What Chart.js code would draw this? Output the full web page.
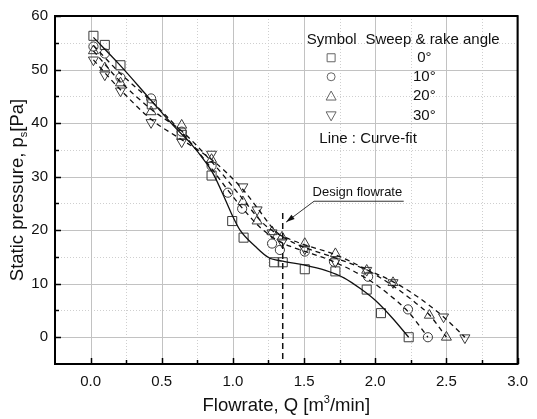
<!DOCTYPE html>
<html>
<head>
<meta charset="utf-8">
<script src="https://cdn.jsdelivr.net/npm/chart.js"></script>
<style>
  body { margin: 0; background: #fff; }
  #wrap { width: 537px; height: 419px; }
</style>
</head>
<body>
<div id="wrap"><canvas id="pChart"></canvas></div>
<script>
const q0  = [0.02, 0.10, 0.21, 0.43, 0.64, 0.85, 0.995, 1.075, 1.29, 1.35, 1.505, 1.72, 1.94, 2.04, 2.235];
const p0  = [56.3, 54.6, 50.8, 43.5, 37.8, 30.2, 21.7, 18.6, 14.0, 14.0, 12.7, 12.3, 8.9, 4.5, 0.0];
const q10 = [0.02, 0.10, 0.21, 0.425, 0.64, 0.85, 0.965, 1.065, 1.275, 1.33, 1.505, 1.71, 1.95, 2.23, 2.37];
const p10 = [54.3, 53.0, 48.5, 44.6, 38.4, 32.0, 27.0, 24.0, 17.5, 16.3, 16.0, 14.1, 11.3, 5.2, 0.0];
const q20 = [0.02, 0.10, 0.21, 0.425, 0.64, 0.85, 1.07, 1.17, 1.275, 1.345, 1.505, 1.72, 1.94, 2.125, 2.38, 2.50];
const p20 = [53.5, 50.3, 47.5, 42.1, 39.6, 33.2, 25.3, 21.7, 19.7, 18.7, 17.5, 15.6, 12.5, 10.2, 4.1, 0.0];
const q30 = [0.02, 0.10, 0.21, 0.425, 0.64, 0.85, 1.07, 1.17, 1.275, 1.345, 1.505, 1.72, 1.94, 2.125, 2.48, 2.63];
const p30 = [51.8, 49.0, 46.0, 40.1, 36.5, 34.2, 28.1, 23.8, 19.5, 17.8, 16.5, 14.1, 12.5, 10.2, 3.8, -0.1];

// curve-fit lines
const fq0  = [0.02, 0.2, 0.4, 0.6, 0.7, 0.8, 0.86, 0.95, 1.0, 1.05, 1.16, 1.25, 1.35, 1.5, 1.65, 1.78, 1.9, 2.0, 2.12, 2.235];
const fp0  = [56.0, 51.0, 45.0, 39.0, 36.3, 33.0, 30.6, 25.5, 22.5, 20.0, 16.9, 14.9, 14.2, 13.5, 12.5, 11.1, 9.0, 6.9, 3.6, 0.0];
const fq10 = [0.02, 0.2, 0.43, 0.64, 0.85, 0.97, 1.07, 1.2, 1.3, 1.4, 1.5, 1.7, 1.95, 2.1, 2.23, 2.37];
const fp10 = [54.5, 49.5, 44.0, 38.3, 31.5, 27.3, 24.0, 20.3, 18.3, 17.0, 16.1, 14.2, 10.8, 7.9, 4.8, 0.0];
const fq20 = [0.02, 0.2, 0.43, 0.64, 0.85, 1.07, 1.2, 1.3, 1.4, 1.5, 1.72, 1.94, 2.13, 2.28, 2.38, 2.50];
const fp20 = [53.5, 48.0, 42.5, 38.5, 32.8, 25.8, 21.6, 19.5, 18.3, 17.3, 15.4, 12.6, 9.5, 6.5, 4.2, 0.0];
const fq30 = [0.02, 0.2, 0.43, 0.64, 0.85, 1.07, 1.17, 1.3, 1.4, 1.5, 1.72, 1.94, 2.13, 2.3, 2.48, 2.63];
const fp30 = [51.8, 46.5, 40.6, 36.9, 33.2, 27.6, 24.2, 19.8, 18.0, 16.8, 14.8, 12.6, 10.3, 7.5, 3.8, 0.0];

const xTickVals = [0, 0.5, 1.0, 1.5, 2.0, 2.5, 3.0];
const yTickVals = [0, 10, 20, 30, 40, 50, 60];
const angleLabels = ['0°', '10°', '20°', '30°'];
const designQ = 1.35;

const FONT = '"Liberation Sans", Arial, sans-serif';
const INK = '#3a3a3a';

function pts(xs, ys) { return xs.map((x, i) => ({ x: x, y: ys[i] })); }

function markers(xs, ys, style, r, rot) {
  return {
    data: pts(xs, ys), showLine: false, pointStyle: style, pointRadius: r, pointRotation: rot || 0,
    borderColor: INK, backgroundColor: 'rgba(0,0,0,0)', pointBorderWidth: 1, pointHoverRadius: r
  };
}
function fit(xs, ys, dash) {
  return {
    data: pts(xs, ys), showLine: true, pointRadius: 0, borderColor: '#111', borderWidth: 1.3,
    borderDash: dash, cubicInterpolationMode: 'monotone', fill: false
  };
}

// small glyphs for the legend block
function glyph(ctx, kind, x, y, s) {
  ctx.beginPath();
  if (kind === 0) ctx.rect(x - s, y - s, 2 * s, 2 * s);
  else if (kind === 1) ctx.arc(x, y, s, 0, Math.PI * 2);
  else if (kind === 2) { ctx.moveTo(x, y - s - 1); ctx.lineTo(x + s + 1, y + s); ctx.lineTo(x - s - 1, y + s); ctx.closePath(); }
  else { ctx.moveTo(x, y + s + 1); ctx.lineTo(x + s + 1, y - s); ctx.lineTo(x - s - 1, y - s); ctx.closePath(); }
  ctx.stroke();
}

const isMajorX = v => xTickVals.some(t => Math.abs(t - v) < 1e-6);

const frame = {
  id: 'frame',
  beforeDatasetsDraw(chart) {
    const { ctx, chartArea: a, scales: { x, y } } = chart;
    ctx.save();
    ctx.lineWidth = 1;
    ctx.strokeStyle = '#cfcfcf';
    ctx.setLineDash([1, 2]);
    for (let v = 0.25; v < 3; v += 0.5) {
      const px = Math.round(x.getPixelForValue(v)) + 0.5;
      ctx.beginPath(); ctx.moveTo(px, a.top); ctx.lineTo(px, a.bottom); ctx.stroke();
    }
    for (let v = 5; v < 60; v += 10) {
      const py = Math.round(y.getPixelForValue(v)) + 0.5;
      ctx.beginPath(); ctx.moveTo(a.left, py); ctx.lineTo(a.right, py); ctx.stroke();
    }
    ctx.setLineDash([]);
    ctx.strokeStyle = '#c2c2c2';
    xTickVals.forEach(v => {
      const px = Math.round(x.getPixelForValue(v)) + 0.5;
      ctx.beginPath(); ctx.moveTo(px, a.top); ctx.lineTo(px, a.bottom); ctx.stroke();
    });
    yTickVals.forEach(v => {
      const py = Math.round(y.getPixelForValue(v)) + 0.5;
      ctx.beginPath(); ctx.moveTo(a.left, py); ctx.lineTo(a.right, py); ctx.stroke();
    });
    ctx.restore();
  },
  afterDatasetsDraw(chart) {
    const { ctx, chartArea: a, scales: { x, y } } = chart;
    const X = v => x.getPixelForValue(v), Y = v => y.getPixelForValue(v);
    ctx.save();

    // design flowrate line + label
    ctx.strokeStyle = '#111';
    ctx.lineWidth = 1.5;
    ctx.setLineDash([6, 4]);
    ctx.beginPath(); ctx.moveTo(X(designQ), Y(23.2)); ctx.lineTo(X(designQ), a.bottom); ctx.stroke();
    ctx.setLineDash([]);
    ctx.lineWidth = 1;
    ctx.strokeStyle = '#333';
    const ux0 = X(1.57), ux1 = X(2.2), uy = Y(25.4), tx = X(1.374), ty = Y(21.5);
    ctx.beginPath(); ctx.moveTo(ux1, uy); ctx.lineTo(ux0, uy); ctx.lineTo(tx, ty); ctx.stroke();
    const ang = Math.atan2(ty - uy, tx - ux0);
    ctx.fillStyle = '#111';
    ctx.beginPath();
    ctx.moveTo(tx, ty);
    ctx.lineTo(tx - 9 * Math.cos(ang - 0.3), ty - 9 * Math.sin(ang - 0.3));
    ctx.lineTo(tx - 9 * Math.cos(ang + 0.3), ty - 9 * Math.sin(ang + 0.3));
    ctx.closePath(); ctx.fill();
    ctx.font = '13px ' + FONT;
    ctx.textBaseline = 'middle';
    ctx.textAlign = 'left';
    ctx.fillText('Design flowrate', X(1.56), Y(27.0));

    // legend block
    ctx.font = '15px ' + FONT;
    ctx.fillStyle = '#111';
    ctx.fillText('Symbol', X(1.518), Y(55.5));
    ctx.fillText('Sweep & rake angle', X(1.931), Y(55.5));
    const rows = [52.2, 48.65, 45.05, 41.35];
    ctx.strokeStyle = '#666';
    ctx.lineWidth = 1;
    rows.forEach((r, i) => {
      glyph(ctx, i, X(1.69), Y(r), 4);
      ctx.textAlign = 'center';
      ctx.fillText(angleLabels[i], X(2.345), Y(r));
    });
    ctx.textAlign = 'left';
    ctx.fillText('Line : Curve-fit', X(1.607), Y(37.0));

    // frame and inward ticks
    ctx.strokeStyle = '#000';
    ctx.lineWidth = 2;
    ctx.strokeRect(a.left, a.top, a.right - a.left, a.bottom - a.top);
    ctx.lineWidth = 1.5;
    for (let v = 0; v <= 3.001; v += 0.25) {
      const px = Math.round(X(v)) + 0.5, len = isMajorX(v) ? 6 : 4;
      ctx.beginPath(); ctx.moveTo(px, a.bottom); ctx.lineTo(px, a.bottom - len); ctx.stroke();
    }
    for (let v = 0; v <= 60; v += 5) {
      const py = Math.round(Y(v)) + 0.5, len = v % 10 === 0 ? 6 : 4;
      ctx.beginPath(); ctx.moveTo(a.left, py); ctx.lineTo(a.left + len, py); ctx.stroke();
    }

    // axis titles
    ctx.fillStyle = '#111';
    ctx.textAlign = 'left';
    ctx.textBaseline = 'alphabetic';
    const big = '18.5px ' + FONT, small = '11px ' + FONT;
    const xa = 'Flowrate, Q [m', xb = '/min]';
    ctx.font = big; const wa = ctx.measureText(xa).width, wb = ctx.measureText(xb).width;
    ctx.font = small; const w3 = ctx.measureText('3').width;
    let sx = (a.left + a.right) / 2 - (wa + w3 + wb) / 2;
    const by = 411;
    ctx.font = big; ctx.fillText(xa, sx, by); sx += wa;
    ctx.font = small; ctx.fillText('3', sx, by - 8); sx += w3;
    ctx.font = big; ctx.fillText(xb, sx, by);

    ctx.translate(23, (a.top + a.bottom) / 2);
    ctx.rotate(-Math.PI / 2);
    const ya = 'Static pressure, p', yb = '[Pa]';
    ctx.font = big; const va = ctx.measureText(ya).width, vb = ctx.measureText(yb).width;
    ctx.font = small; const vs = ctx.measureText('s').width;
    let sy = -(va + vs + vb) / 2;
    ctx.font = big; ctx.fillText(ya, sy, 0); sy += va;
    ctx.font = small; ctx.fillText('s', sy, 4); sy += vs;
    ctx.font = big; ctx.fillText(yb, sy, 0);
    ctx.restore();
  }
};

new Chart(document.getElementById('pChart'), {
  type: 'scatter',
  data: {
    datasets: [
      fit(fq0, fp0, []),
      fit(fq10, fp10, [5, 4]),
      fit(fq20, fp20, [5, 4]),
      fit(fq30, fp30, [5, 4]),
      markers(q0, p0, 'rect', 6.4),
      markers(q10, p10, 'circle', 4.6),
      markers(q20, p20, 'triangle', 5.8),
      markers(q30, p30, 'triangle', 5.8, 180)
    ]
  },
  options: {
    responsive: true,
    maintainAspectRatio: false,
    animation: false,
    layout: { padding: { left: 0, right: 10, top: 16, bottom: 0 } },
    plugins: { legend: { display: false }, tooltip: { enabled: false } },
    scales: {
      x: {
        type: 'linear', min: -0.25, max: 3.0,
        afterFit: s => { s.height = 55; },
        grid: { display: false, drawTicks: false },
        border: { display: false },
        ticks: {
          stepSize: 0.25, autoSkip: false, maxRotation: 0, padding: 9, color: '#111',
          font: { family: FONT, size: 15 },
          callback: v => isMajorX(v) ? Number(v).toFixed(1) : ''
        }
      },
      y: {
        type: 'linear', min: -5, max: 60,
        afterFit: s => { s.width = 55; },
        grid: { display: false, drawTicks: false },
        border: { display: false },
        ticks: {
          stepSize: 10, padding: 7, color: '#111', font: { family: FONT, size: 15 },
          callback: v => yTickVals.includes(v) ? String(v) : ''
        }
      }
    }
  },
  plugins: [frame]
});
</script>
</body>
</html>
